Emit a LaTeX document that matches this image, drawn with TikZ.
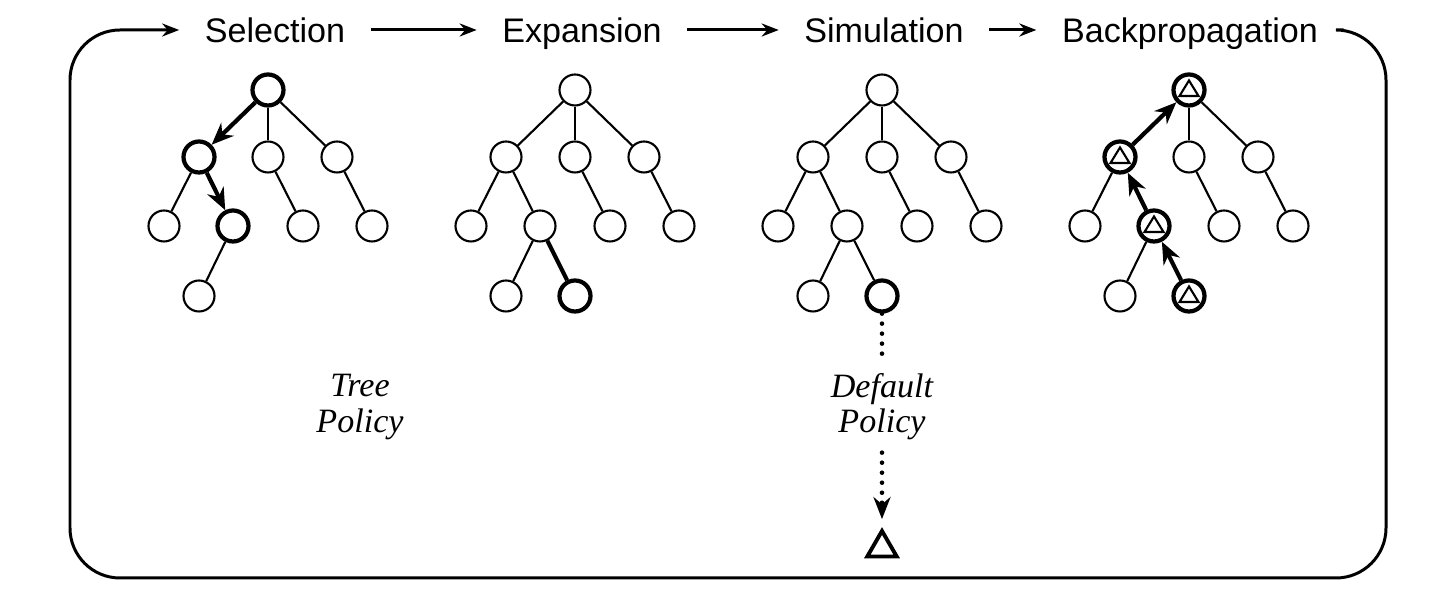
\documentclass[tikz,border=0pt]{standalone}
\usepackage{fontspec}
\setmainfont{Liberation Serif}
\setsansfont{Liberation Sans}
\usetikzlibrary{
  arrows.meta,
  positioning,
  shapes.geometric
}
\tikzset{
  stnode/.style={draw, circle, line width=0.6pt, minimum size=3.1mm, inner sep=0pt},
  hotnode/.style={stnode, line width=1.2pt},
  valnode/.style={hotnode, path picture={
      \draw[line width=0.6pt, line join=miter]
        ([shift={(-0.95mm,-0.6mm)}]path picture bounding box.center)
        -- ++(1.9mm,0) -- ++(-0.95mm,1.55mm) -- cycle;}},
  treeedge/.style={line width=0.6pt},
  hotedge/.style={line width=1.2pt},
  hotarrow/.style={-{Stealth[length=2.2mm, width=1.8mm]}, line width=1.2pt},
  phase/.style={font=\sffamily\fontsize{9.7}{11.6}\selectfont,
    text height=2.44mm, text depth=0pt, inner xsep=2.5mm},
  policy/.style={font=\itshape\fontsize{9.7}{10}\selectfont, align=center},
  cycleline/.style={line width=0.85pt, rounded corners=5mm},
  steparrow/.style={-{Stealth[length=1.7mm, width=1.3mm]}, line width=0.85pt},
  rollout/.style={line width=1.3pt, line cap=round, dash pattern=on 0pt off 2.85pt},
  terminal/.style={draw, regular polygon, regular polygon sides=3,
    line width=1.1pt, minimum size=3.4mm, inner sep=0pt}
}
\begin{document}
\begin{tikzpicture}[x=0.1mm, y=-0.1mm]
  \useasboundingbox (0,0) rectangle (1447,601);

  % phase titles
  \node[phase] (selection) at (275,30) {Selection};
  \node[phase] (expansion) at (582,30) {Expansion};
  \node[phase] (simulation) at (884,30) {Simulation};
  \node[phase] (backprop) at (1190,30) {Backpropagation};
  \draw[steparrow] (selection) -- (expansion);
  \draw[steparrow] (expansion) -- (simulation);
  \draw[steparrow] (simulation) -- (backprop);
  \draw[cycleline, steparrow] (backprop.east) -| (1386,578) -| (70,30) -- (selection.west);

  % selection tree
  \foreach \n/\dx/\dy/\s in {r/0/0/hotnode, a/-69/67/hotnode, b/0/67/stnode,
      c/69/67/stnode, d/-104/136/stnode, e/-35/136/hotnode, f/35/136/stnode,
      g/104/136/stnode, h/-69/206/stnode}
    \node[\s] (sel-\n) at (268+\dx,90+\dy) {};

  % expansion tree
  \foreach \n/\dx/\dy/\s in {r/0/0/stnode, a/-69/67/stnode, b/0/67/stnode,
      c/69/67/stnode, d/-104/136/stnode, e/-35/136/stnode, f/35/136/stnode,
      g/104/136/stnode, h/-69/206/stnode, k/0/206/hotnode}
    \node[\s] (exp-\n) at (575+\dx,90+\dy) {};

  % simulation tree
  \foreach \n/\dx/\dy/\s in {r/0/0/stnode, a/-69/67/stnode, b/0/67/stnode,
      c/69/67/stnode, d/-104/136/stnode, e/-35/136/stnode, f/35/136/stnode,
      g/104/136/stnode, h/-69/206/stnode, k/0/206/hotnode}
    \node[\s] (sim-\n) at (882+\dx,90+\dy) {};

  % backpropagation tree
  \foreach \n/\dx/\dy/\s in {r/0/0/valnode, a/-69/67/valnode, b/0/67/stnode,
      c/69/67/stnode, d/-104/136/stnode, e/-35/136/valnode, f/35/136/stnode,
      g/104/136/stnode, h/-69/206/stnode, k/0/206/valnode}
    \node[\s] (bp-\n) at (1189+\dx,90+\dy) {};

  % edges
  \foreach \p in {sel,exp,sim,bp}
    \foreach \a/\b in {r/b, r/c, a/d, b/f, c/g, e/h}
      \draw[treeedge] (\p-\a) -- (\p-\b);
  \draw[hotarrow] (sel-r) -- (sel-a);
  \draw[hotarrow] (sel-a) -- (sel-e);
  \draw[treeedge] (exp-r) -- (exp-a);
  \draw[treeedge] (exp-a) -- (exp-e);
  \draw[hotedge] (exp-e) -- (exp-k);
  \foreach \a/\b in {r/a, a/e, e/k}
    \draw[treeedge] (sim-\a) -- (sim-\b);
  \draw[hotarrow] (bp-k) -- (bp-e);
  \draw[hotarrow] (bp-e) -- (bp-a);
  \draw[hotarrow] (bp-a) -- (bp-r);

  % policies
  \node[policy] (treepol) at (360,407) {Tree\\Policy};
  \node[policy] (defpol) at (882,407) {Default\\Policy};
  \node[terminal] (sim-end) at (882,548) {};
  \draw[rollout] (sim-k) -- (defpol);
  \draw[rollout, -{Stealth[length=2.2mm, width=1.7mm]}, shorten >=0.8mm] (defpol) -- (sim-end);
\end{tikzpicture}
\end{document}
